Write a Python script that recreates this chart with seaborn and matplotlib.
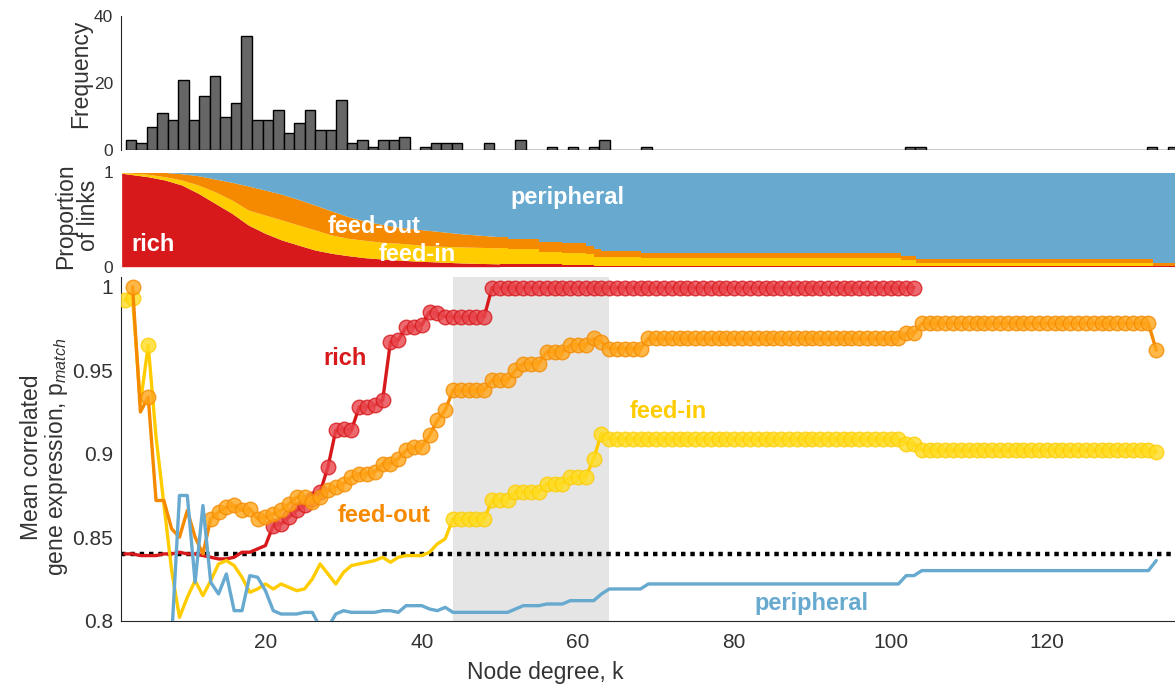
import numpy as np
import pandas as pd
import matplotlib
matplotlib.use("Agg")
import matplotlib.pyplot as plt
import seaborn as sns

sns.set_style("white")
plt.rcParams['font.family'] = ['Liberation Sans', 'DejaVu Sans']
plt.rcParams['mathtext.fontset'] = 'custom'
plt.rcParams['mathtext.rm'] = 'Liberation Sans'
plt.rcParams['mathtext.it'] = 'Liberation Sans:italic'

# ---------------- data ----------------
# degree histogram (100 bins between hist_lo and hist_hi)
hist_counts = ([3, 2, 7, 11, 9, 21, 9, 16, 22, 10, 14, 34, 9, 9, 12, 5, 8, 12, 6, 6,
                15, 2, 3, 1, 3, 3, 4, 0, 1, 2, 2, 2, 0, 0, 2, 0, 0, 3, 0, 0,
                1, 0, 1, 0, 1, 3, 0, 0, 0, 1] + [0] * 24 + [1, 1] + [0] * 21 + [1, 0, 1])
hist_lo, hist_hi = 2.12, 136.8

# proportion of links (cumulative tops: rich, rich+feed-in, rich+feed-in+feed-out)
prop_k = [1.6, 5.0, 7.15, 9.3, 11.4, 13.55, 15.7, 17.8, 19.95, 22.1, 24.2, 26.35, 28.5,
          30.6, 32.7, 34.9, 37.0, 39.1, 41.3, 45.0, 50.0,
          51.0, 55.0, 58.0, 61.0, 62.0, 63.0, 68.0, 101.3, 103.3, 133.6, 136.4]
prop_rich_top = [0.992, 0.955, 0.92, 0.867, 0.779, 0.673, 0.567, 0.443, 0.355, 0.283, 0.23,
                 0.177, 0.142, 0.117, 0.096, 0.082, 0.071, 0.06, 0.053, 0.04, 0.03,
                 0.03, 0.03, 0.018, 0.018, 0.005, 0.005, 0.003, 0.003, 0.003, 0.003, 0.003]
prop_feedin_top = [1.0, 0.981, 0.955, 0.92, 0.867, 0.796, 0.708, 0.602, 0.549, 0.496, 0.443,
                   0.39, 0.336, 0.301, 0.28, 0.26, 0.25, 0.235, 0.22, 0.21, 0.2,
                   0.185, 0.16, 0.142, 0.132, 0.106, 0.106, 0.089, 0.071, 0.036, 0.011, 0.011]
prop_feedout_top = [1.0, 1.0, 1.0, 0.987, 0.966, 0.931, 0.896, 0.857, 0.814, 0.769, 0.715,
                    0.655, 0.591, 0.531, 0.485, 0.45, 0.421, 0.4, 0.382, 0.35, 0.318,
                    0.29, 0.265, 0.248, 0.22, 0.185, 0.167, 0.142, 0.114, 0.079, 0.036, 0.036]
prop_step_from = 50.0  # beyond this degree the proportions change in discrete steps

# mean correlated gene expression vs degree
degree = list(range(2, 135))
p_rich = ([0.840, 0.840, 0.839, 0.839, 0.839, 0.840, 0.840, 0.841, 0.840, 0.840,
           0.839, 0.838, 0.837, 0.837, 0.838, 0.841, 0.841, 0.843, 0.845,
           0.857, 0.858, 0.862, 0.866, 0.869, 0.873, 0.877, 0.892, 0.914, 0.915,
           0.914, 0.928, 0.928, 0.929, 0.932, 0.967, 0.968, 0.976, 0.976, 0.977,
           0.985, 0.984, 0.982, 0.982, 0.982, 0.982, 0.982, 0.982]
          + [0.9995] * 55 + [np.nan] * 31)
p_feedout = ([np.nan, 1.0, 0.925, 0.934, 0.872, 0.872, 0.855, 0.850, 0.866, 0.850, 0.840,
              0.861, 0.865, 0.868, 0.869, 0.866, 0.867, 0.861, 0.862, 0.864, 0.866,
              0.870, 0.874, 0.874, 0.871, 0.874, 0.878, 0.880, 0.882, 0.886, 0.888,
              0.888, 0.889, 0.894, 0.894, 0.897, 0.902, 0.904, 0.904, 0.911, 0.920,
              0.926, 0.938]
             + [0.938] * 4 + [0.944] * 3 + [0.950] + [0.954] * 3 + [0.961] * 3
             + [0.965] * 3 + [0.969, 0.967] + [0.963] * 5 + [0.969] * 33
             + [0.972] * 2 + [0.978] * 30 + [0.962])
p_feedin = ([0.992, 0.993, 0.930, 0.965, 0.910, 0.870, 0.830, 0.802, 0.814, 0.824,
             0.815, 0.824, 0.834, 0.836, 0.833, 0.826, 0.817, 0.819, 0.822, 0.819,
             0.822, 0.820, 0.818, 0.819, 0.825, 0.834, 0.828, 0.822, 0.829, 0.833,
             0.834, 0.835, 0.836, 0.838, 0.835, 0.838, 0.839, 0.839, 0.839, 0.841,
             0.846, 0.849]
            + [0.861] * 5 + [0.872] * 3 + [0.877] * 4 + [0.882] * 3 + [0.886] * 3
            + [0.897, 0.912] + [0.909] * 38 + [0.906] * 2 + [0.902] * 30 + [0.901])
p_periph = ([0.70] * 6 + [0.79, 0.875, 0.875, 0.823, 0.869, 0.823, 0.816, 0.828, 0.806,
             0.806, 0.827, 0.826, 0.818, 0.806, 0.804, 0.804, 0.804, 0.805, 0.805,
             0.796, 0.796, 0.804, 0.806, 0.805, 0.805, 0.805, 0.805, 0.806, 0.806,
             0.805, 0.809, 0.809, 0.809, 0.807, 0.806, 0.808]
            + [0.805] * 8 + [0.807] + [0.809] * 3 + [0.810] * 3 + [0.812] * 4
            + [0.816] + [0.819] * 5 + [0.822] * 33 + [0.827] * 2 + [0.830] * 30 + [0.836])

# degrees at which each curve is significant (drawn with markers)
sig_rich = [k for k in degree if k >= 21]
sig_feedout = [3, 5] + [k for k in degree if k >= 13]
sig_feedin = [2, 3, 5] + [k for k in degree if k >= 44]
sig_periph = []

null_level = 0.84
shade_lo, shade_hi = 44, 64

# ---------------- style ----------------
C_RICH = '#D7191C'
C_IN = '#FFCC00'
C_OUT = '#F58A00'
C_PER = '#67A9CF'
TXT = '#333333'
XLIM = (1.58, 136.4)

W, H = 1175, 686
fig = plt.figure(figsize=(W / 100, H / 100), dpi=100)

def frac_rect(left, top, right, bottom):
    return [left / W, 1 - bottom / H, (right - left) / W, (bottom - top) / H]

ax_h = fig.add_axes(frac_rect(121.5, 16, 1175, 150))
ax_p = fig.add_axes(frac_rect(121.5, 172.5, 1175, 266.7))
ax_m = fig.add_axes(frac_rect(121.5, 276.7, 1175, 620.7))

tick_kw = dict(direction='in', length=7, width=1, colors=TXT, labelsize=15, pad=6)
small_tick_kw = dict(tick_kw, labelsize=12.5)

# ---- histogram ----
edges = np.linspace(hist_lo, hist_hi, len(hist_counts) + 1)
hdf = pd.DataFrame({'k': (edges[:-1] + edges[1:]) / 2, 'n': hist_counts})
sns.histplot(data=hdf, x='k', weights='n', bins=list(edges), ax=ax_h,
             color='#666666', edgecolor='black', linewidth=1.0, alpha=1.0)
ax_h.set_xlim(*XLIM)
ax_h.set_ylim(0, 40)
ax_h.set_yticks([0, 20, 40])
ax_h.set_xticks([])
ax_h.set_xlabel('')
for s in ['top', 'right', 'bottom']:
    ax_h.spines[s].set_visible(False)
ax_h.spines['left'].set_color('#262626')
ax_h.tick_params(axis='y', **small_tick_kw)
ax_h.set_ylabel('Frequency', fontsize=16.5, color=TXT)
ax_h.yaxis.set_label_coords(-0.028, 0.567)

# ---- proportion panel ----
pk = np.array(prop_k)
r = np.array(prop_rich_top)
fi = np.array(prop_feedin_top)
fo = np.array(prop_feedout_top)
smooth = pk <= prop_step_from
steps = pk >= prop_step_from
for mask, st in [(smooth, None), (steps, 'post')]:
    x = pk[mask]
    ax_p.fill_between(x, 0, r[mask], step=st, color=C_RICH, lw=0)
    ax_p.fill_between(x, r[mask], fi[mask], step=st, color=C_IN, lw=0)
    ax_p.fill_between(x, fi[mask], fo[mask], step=st, color=C_OUT, lw=0)
    ax_p.fill_between(x, fo[mask], 1, step=st, color=C_PER, lw=0)
ax_p.set_xlim(*XLIM)
ax_p.set_ylim(0, 1)
ax_p.set_yticks([0, 1])
ax_p.set_xticks([])
for s in ax_p.spines.values():
    s.set_visible(False)
ax_p.tick_params(axis='y', **small_tick_kw)
ax_p.set_ylabel('Proportion\nof links', fontsize=16.5, color=TXT, linespacing=1.0)
ax_p.yaxis.set_label_coords(-0.02, 0.54)
lab_kw = dict(color='white', fontsize=17, fontweight='bold', ha='center', va='center')
ax_p.text(5.66, 0.24, 'rich', **lab_kw)
ax_p.text(33.9, 0.43, 'feed-out', **lab_kw)
ax_p.text(39.4, 0.13, 'feed-in', **lab_kw)
ax_p.text(58.6, 0.73, 'peripheral', **lab_kw)

# ---- main panel ----
ax_m.axvspan(shade_lo, shade_hi, color='#E5E5E5', lw=0, zorder=0)
ax_m.axhline(null_level, color='black', lw=3.2, ls=(0, (1, 1.1)), zorder=2)

df = pd.DataFrame({'k': degree, 'rich': p_rich, 'feed-in': p_feedin,
                   'feed-out': p_feedout, 'peripheral': p_periph})
series = [('rich', C_RICH, '#E8454B', sig_rich),
          ('feed-in', C_IN, '#FFDD22', sig_feedin),
          ('feed-out', C_OUT, '#FFA51A', sig_feedout),
          ('peripheral', C_PER, C_PER, sig_periph)]
z = 3
for name, col, face, sig in series:
    sub = df[['k', name]].dropna()
    sns.lineplot(data=sub, x='k', y=name, color=col, linewidth=2.4, ax=ax_m, zorder=z)
    if sig:
        sd = sub[sub['k'].isin(sig)]
        sns.scatterplot(data=sd, x='k', y=name, s=110, color=face, edgecolor=col,
                        linewidth=1.0, alpha=0.8, ax=ax_m, zorder=z + 0.5)
    z += 1

ax_m.set_xlim(*XLIM)
ax_m.set_ylim(0.8, 1.006)
ax_m.set_xticks([20, 40, 60, 80, 100, 120])
ax_m.set_yticks([0.8, 0.85, 0.9, 0.95, 1.0])
ax_m.set_yticklabels(['0.8', '0.85', '0.9', '0.95', '1'])
ax_m.spines['top'].set_visible(False)
ax_m.spines['right'].set_visible(False)
for s in ['left', 'bottom']:
    ax_m.spines[s].set_color('#262626')
ax_m.tick_params(axis='both', **tick_kw)
ax_m.tick_params(axis='x', pad=9)
ax_m.set_xlabel('Node degree, k', fontsize=16.5, color=TXT)
ax_m.xaxis.set_label_coords(0.402, -0.118)
ax_m.set_ylabel('Mean correlated\ngene expression, p$_{match}$', fontsize=16.5,
                color=TXT, linespacing=1.0)
ax_m.yaxis.set_label_coords(-0.049, 0.476)

ann_kw = dict(fontsize=17, fontweight='bold', ha='center', va='center')
ax_m.text(30.2, 0.957, 'rich', color=C_RICH, **ann_kw)
ax_m.text(35.2, 0.863, 'feed-out', color=C_OUT, **ann_kw)
ax_m.text(71.6, 0.925, 'feed-in', color=C_IN, **ann_kw)
ax_m.text(89.9, 0.8105, 'peripheral', color=C_PER, **ann_kw)

fig.savefig('out.png', dpi=100)
